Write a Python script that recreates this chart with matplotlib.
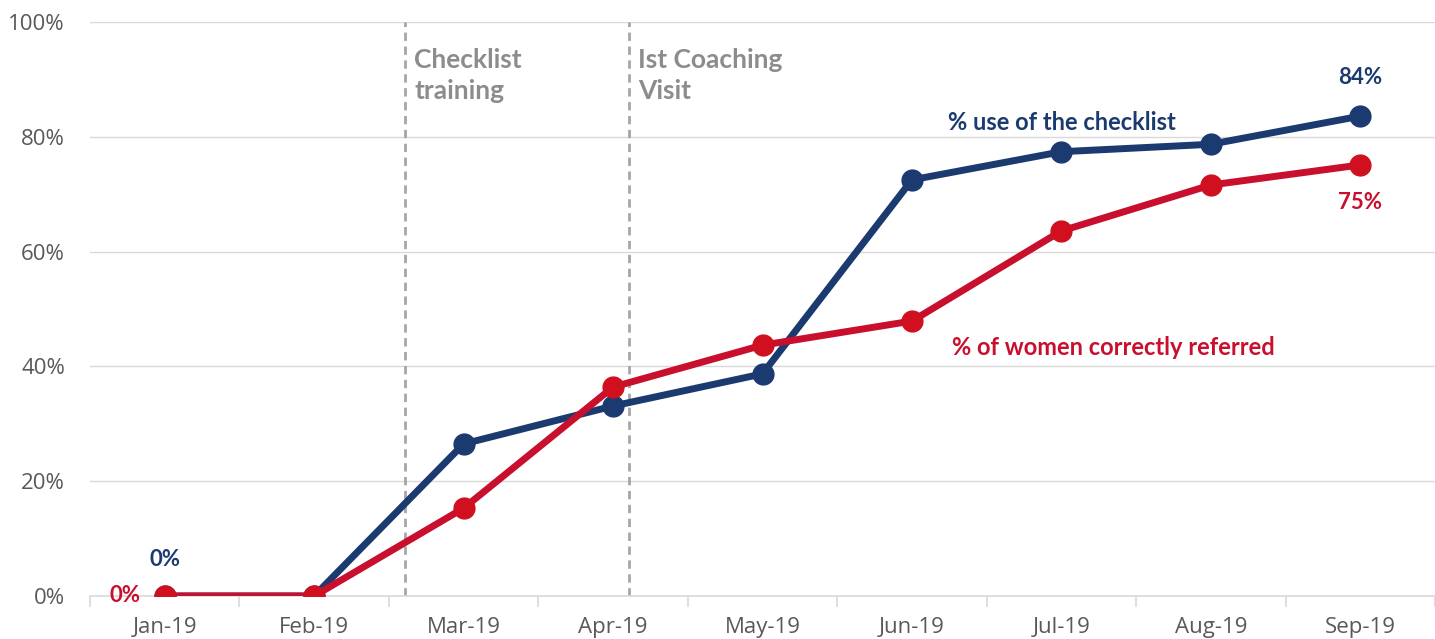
import matplotlib.pyplot as plt
import matplotlib.ticker as mticker

months = ["Jan-19", "Feb-19", "Mar-19", "Apr-19", "May-19",
          "Jun-19", "Jul-19", "Aug-19", "Sep-19"]
checklist_use = [0, 0, 26.5, 33.1, 38.7, 72.5, 77.4, 78.7, 83.6]
correctly_referred = [0, 0, 15.3, 36.4, 43.7, 47.9, 63.6, 71.6, 75.1]
events = [(1.61, "Checklist\ntraining"), (3.11, "Ist Coaching\nVisit")]

BLUE = "#1b3a6f"
RED = "#c8102e"
GREY = "#595959"

plt.rcParams["font.family"] = ["Lato", "DejaVu Sans"]

fig = plt.figure(figsize=(14.35, 6.39), dpi=100)
ax = fig.add_axes([90 / 1435, 43 / 639, 1345 / 1435, 574 / 639])

x = list(range(len(months)))
ax.plot(x, checklist_use, "-o", color=BLUE, lw=5, ms=15, zorder=4)
ax.plot(x, correctly_referred, "-o", color=RED, mfc="#d0101e", mec="#d0101e",
        lw=5, ms=15, zorder=5)

for xe, label in events:
    ax.axvline(xe, ymin=0, ymax=1, color="#a6a6a6", lw=2, ls=(0, (3, 2)), zorder=2)
    ax.text(xe + 0.06, 95.5, label, ha="left", va="top", fontsize=19,
            fontweight="bold", color="#8c8c8c", linespacing=1.35)

# point labels
ax.text(0, 4.5, "0%", color=BLUE, fontsize=16, fontweight="bold", ha="center", va="bottom")
ax.text(-0.16, 0, "0%", color=RED, fontsize=16, fontweight="bold", ha="right", va="center")
ax.text(8, 88.5, "84%", color=BLUE, fontsize=16, fontweight="bold", ha="center", va="bottom")
ax.text(8, 68.5, "75%", color=RED, fontsize=16, fontweight="bold", ha="center", va="center")

# series labels
ax.text(6, 82.5, "% use of the checklist", color=BLUE, fontsize=17,
        fontweight="bold", ha="center", va="center")
ax.text(5.27, 43.3, "% of women correctly referred", color=RED, fontsize=17,
        fontweight="bold", ha="left", va="center")

ax.set_xlim(-0.5, 8.43)
ax.set_ylim(0, 100)
ax.set_xticks(x)
ax.set_xticklabels(months)
ax.set_xticks([i + 0.5 for i in range(-1, 9)], minor=True)
ax.set_yticks(range(0, 101, 20))
ax.yaxis.set_major_formatter(mticker.FuncFormatter(lambda v, p: f"{int(v)}%"))

ax.grid(axis="y", color="#d9d9d9", lw=1)
ax.set_axisbelow(True)
for side in ["top", "right", "left"]:
    ax.spines[side].set_visible(False)
ax.spines["bottom"].set_color("#d9d9d9")
ax.spines["bottom"].set_linewidth(1.2)

ax.tick_params(axis="x", which="major", length=0, pad=15, labelsize=16, labelcolor=GREY)
ax.tick_params(axis="x", which="minor", length=8, color="#d9d9d9", width=1.2)
ax.tick_params(axis="y", length=0, pad=18, labelsize=16, labelcolor=GREY)
for t in ax.get_yticklabels() + ax.get_xticklabels():
    t.set_fontfamily(["Open Sans", "DejaVu Sans"])

fig.savefig("out.png", dpi=100)
